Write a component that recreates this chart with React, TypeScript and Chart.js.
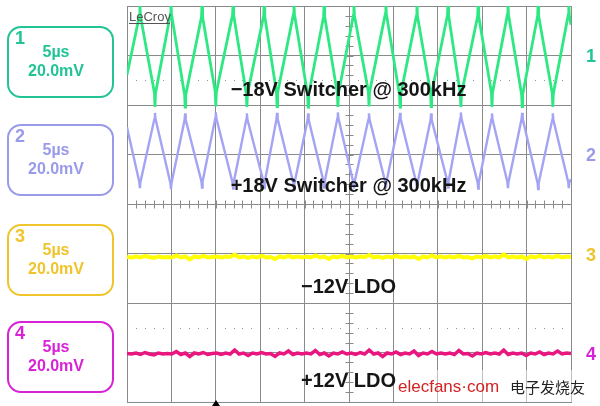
import React, { useEffect, useRef } from "react";
import { Chart, registerables } from "chart.js";

Chart.register(...registerables);

// ---- Channel 1 (−18V switcher): triangle vertices (x in divisions, y in divisions)
const ch1X = [0, 0.29, 0.63, 0.99, 1.31, 1.69, 2.0, 2.39, 2.7, 3.09, 3.38, 3.76, 4.08, 4.44, 4.75, 5.11, 5.45, 5.83, 6.15, 6.53, 6.85, 7.23, 7.52, 7.91, 8.22, 8.58, 8.9, 9.26, 9.59, 9.95, 10];
const ch1Y = [6.61, 7.8, 6.24, 7.84, 6.2, 7.78, 6.26, 7.82, 6.22, 7.8, 6.25, 7.83, 6.21, 7.79, 6.23, 7.81, 6.26, 7.84, 6.2, 7.8, 6.24, 7.82, 6.22, 7.79, 6.25, 7.83, 6.21, 7.8, 6.23, 7.82, 7.62];
const ch1Tip = [6.61, 8.05, 5.96, 8.05, 5.96, 8.05, 5.97, 8.05, 5.96, 8.05, 5.97, 8.05, 5.96, 8.05, 5.96, 8.05, 5.97, 8.05, 5.96, 8.05, 5.97, 8.05, 5.96, 8.05, 5.96, 8.05, 5.97, 8.05, 5.96, 8.05, 7.62];

// ---- Channel 2 (+18V switcher)
const ch2X = [0, 0.29, 0.63, 0.99, 1.31, 1.69, 2.0, 2.39, 2.7, 3.09, 3.38, 3.76, 4.08, 4.44, 4.75, 5.11, 5.45, 5.83, 6.15, 6.53, 6.85, 7.23, 7.52, 7.91, 8.22, 8.58, 8.9, 9.26, 9.59, 9.95, 10];
const ch2Y = [5.55, 4.44, 5.72, 4.42, 5.7, 4.45, 5.73, 4.43, 5.71, 4.44, 5.72, 4.42, 5.7, 4.45, 5.73, 4.43, 5.71, 4.44, 5.72, 4.42, 5.7, 4.45, 5.73, 4.43, 5.71, 4.44, 5.72, 4.42, 5.7, 4.44, 4.5];
const ch2Tip = [5.55, 4.32, 5.84, 4.3, 5.83, 4.33, 5.85, 4.31, 5.83, 4.32, 5.84, 4.3, 5.83, 4.33, 5.85, 4.31, 5.83, 4.32, 5.84, 4.3, 5.83, 4.33, 5.85, 4.31, 5.83, 4.32, 5.84, 4.3, 5.83, 4.32, 4.5];

// ---- Channel 3 (−12V LDO) noise samples
const ch3Y = [
  2.93, 2.92, 2.94, 2.92, 2.95, 2.93, 2.91, 2.94, 2.92, 2.93,
  2.92, 2.96, 2.92, 2.94, 2.88, 2.94, 2.92, 2.95, 2.92, 2.93,
  2.94, 2.92, 2.94, 2.93, 2.98, 2.92, 2.94, 2.91, 2.94, 2.92,
  2.95, 2.92, 2.93, 2.89, 2.94, 2.92, 2.95, 2.92, 2.94, 2.92,
  2.94, 2.92, 2.96, 2.92, 2.94, 2.89, 2.94, 2.92, 2.95, 2.92,
  2.94, 2.92, 2.94, 2.93, 2.97, 2.92, 2.94, 2.91, 2.94, 2.92,
  2.95, 2.92, 2.94, 2.92, 2.94, 2.89, 2.94, 2.92, 2.96, 2.92,
  2.94, 2.92, 2.94, 2.92, 2.95, 2.92, 2.93, 2.9, 2.94, 2.92,
  2.95, 2.92, 2.94, 2.92, 2.98, 2.92, 2.94, 2.92, 2.94, 2.89,
  2.94, 2.92, 2.95, 2.92, 2.94, 2.92, 2.95, 2.92, 2.94, 2.93,
];

// ---- Channel 4 (+12V LDO) noise samples
const ch4Y = [
  0.98, 0.97, 0.99, 0.96, 1.0, 0.97, 0.95, 0.99, 0.97, 0.98,
  0.97, 1.02, 0.96, 0.99, 0.92, 0.99, 0.97, 1.0, 0.96, 0.98,
  0.99, 0.96, 0.99, 0.97, 1.05, 0.97, 0.99, 0.94, 0.99, 0.97,
  1.0, 0.97, 0.98, 0.92, 0.99, 0.97, 1.03, 0.96, 0.99, 0.97,
  0.99, 0.97, 1.04, 0.96, 0.99, 0.93, 0.99, 0.97, 1.01, 0.97,
  0.99, 0.96, 1.0, 0.97, 1.05, 0.97, 0.99, 0.92, 0.99, 0.97,
  1.01, 0.96, 0.99, 0.97, 1.03, 0.94, 0.99, 0.97, 1.02, 0.97,
  0.99, 0.97, 0.99, 0.96, 1.04, 0.97, 0.98, 0.93, 0.99, 0.97,
  1.0, 0.97, 0.99, 0.97, 1.05, 0.96, 0.99, 0.97, 0.99, 0.94,
  0.99, 0.97, 1.01, 0.96, 0.99, 0.97, 1.03, 0.97, 0.99, 0.98,
];

const channelNames = ["1", "2", "3", "4"];
const timeBase = "5µs";
const voltScale = "20.0mV";
const traceTitles = ["−18V Switcher @ 300kHz", "+18V Switcher @ 300kHz", "−12V LDO", "+12V LDO"];
const boxColors = ["#22c496", "#9a9aea", "#f0c42c", "#d822d8"];
const traceColors = ["#2ee883", "#a4a4f4", "#ffff00", "#ea1680"];
const boxTops = [27, 125, 225, 322];
const labelYs = [57, 156, 256, 355];
const titleY = [6.3, 4.36, 2.32, 0.41];

const X_DIVS = 10;
const Y_DIVS = 8;

function triangleData(xs: number[], ys: number[], tips: number[]) {
  const pts: { x: number; y: number }[] = [];
  for (let i = 0; i < xs.length; i++) {
    if (i === 0 || i === xs.length - 1) {
      pts.push({ x: xs[i], y: ys[i] });
    } else {
      pts.push({ x: xs[i] - 0.012, y: ys[i] });
      pts.push({ x: xs[i], y: tips[i] });
      pts.push({ x: xs[i] + 0.012, y: ys[i] });
    }
  }
  return pts;
}

function noiseData(ys: number[]) {
  return ys.map((y, i) => ({ x: (i * X_DIVS) / (ys.length - 1), y }));
}

const overlay = {
  id: "scopeOverlay",
  beforeDatasetsDraw(chart: any) {
    const { ctx, scales } = chart;
    const xs = scales.x;
    const ys = scales.y;
    ctx.save();
    ctx.strokeStyle = "#8a8a8a";
    ctx.lineWidth = 1;
    const cx = Math.round(xs.getPixelForValue(X_DIVS / 2)) + 0.5;
    const cy = Math.round(ys.getPixelForValue(Y_DIVS / 2)) + 0.5;
    ctx.beginPath();
    for (let k = 0; k <= Y_DIVS * 5; k++) {
      const y = Math.round(ys.getPixelForValue(k / 5)) + 0.5;
      ctx.moveTo(cx - 4, y);
      ctx.lineTo(cx + 4, y);
    }
    for (let k = 0; k <= X_DIVS * 5; k++) {
      const x = Math.round(xs.getPixelForValue(k / 5)) + 0.5;
      ctx.moveTo(x, cy - 4);
      ctx.lineTo(x, cy + 4);
    }
    ctx.stroke();
    ctx.fillStyle = "#999";
    [6.5, 1.5].forEach((lv) => {
      const y = Math.round(ys.getPixelForValue(lv));
      for (let k = 0; k < X_DIVS * 5; k++) {
        if (k % 5 === 0) continue;
        const x = Math.round(xs.getPixelForValue(k / 5));
        ctx.fillRect(x, y, 1, 1);
      }
    });
    ctx.restore();
  },
  afterDraw(chart: any) {
    const { ctx, scales } = chart;
    const xs = scales.x;
    const ys = scales.y;
    ctx.save();
    ctx.fillStyle = "#151515";
    ctx.font = 'bold 20px "Liberation Sans", Arial, sans-serif';
    ctx.textAlign = "center";
    ctx.textBaseline = "middle";
    traceTitles.forEach((t, i) => {
      ctx.fillText(t, xs.getPixelForValue(4.99), ys.getPixelForValue(titleY[i]));
    });
    boxTops.forEach((top, i) => {
      ctx.strokeStyle = boxColors[i];
      ctx.lineWidth = 2;
      ctx.beginPath();
      (ctx as any).roundRect(8, top, 105, 70, 13);
      ctx.stroke();
      ctx.fillStyle = boxColors[i];
      ctx.font = 'bold 18px "Liberation Sans", Arial, sans-serif';
      ctx.textAlign = "center";
      ctx.fillText(channelNames[i], 20, top + 12);
      ctx.font = 'bold 16px "Liberation Sans", Arial, sans-serif';
      ctx.fillText(timeBase, 56, top + 26);
      ctx.fillText(voltScale, 56, top + 45);
      ctx.font = 'bold 18px "Liberation Sans", Arial, sans-serif';
      ctx.fillText(channelNames[i], 591, labelYs[i]);
    });
    ctx.fillStyle = "#555";
    ctx.font = '13px "Liberation Sans", Arial, sans-serif';
    ctx.textAlign = "left";
    ctx.textBaseline = "alphabetic";
    ctx.fillText("LeCroy", 129, 21);
    ctx.fillRect(129, 23, 41, 1);
    const tx = Math.round(xs.getPixelForValue(2));
    ctx.fillStyle = "#000";
    ctx.beginPath();
    ctx.moveTo(tx, 400);
    ctx.lineTo(tx - 4, 406);
    ctx.lineTo(tx + 4, 406);
    ctx.closePath();
    ctx.fill();
    ctx.fillStyle = "rgba(255,255,255,0.45)";
    ctx.fillRect(400, 370, 200, 32);
    ctx.fillStyle = "#d42222";
    ctx.font = '17px "Liberation Sans", Arial, sans-serif';
    ctx.fillText("elecfans·com", 398, 392);
    ctx.fillStyle = "#222";
    ctx.font = '15px "Noto Sans CJK SC", sans-serif';
    ctx.fillText("电子发烧友", 510, 393);
    ctx.restore();
  },
};

export default function App() {
  const ref = useRef<HTMLCanvasElement | null>(null);
  useEffect(() => {
    if (!ref.current) return;
    const chart = new Chart(ref.current, {
      type: "line",
      data: {
        datasets: [
          { data: triangleData(ch1X, ch1Y, ch1Tip), borderColor: traceColors[0], borderWidth: 2.8 },
          { data: triangleData(ch2X, ch2Y, ch2Tip), borderColor: traceColors[1], borderWidth: 2.4 },
          { data: noiseData(ch3Y), borderColor: traceColors[2], borderWidth: 4 },
          { data: noiseData(ch4Y), borderColor: traceColors[3], borderWidth: 3.5 },
        ],
      },
      options: {
        animation: false,
        responsive: false,
        devicePixelRatio: 1,
        layout: { padding: { left: 127, right: 29, top: 6, bottom: 4 } },
        plugins: { legend: { display: false }, tooltip: { enabled: false } },
        elements: { point: { radius: 0 }, line: { tension: 0 } },
        scales: {
          x: {
            type: "linear",
            min: 0,
            max: X_DIVS,
            ticks: { display: false, stepSize: 1 },
            grid: { color: "#8a8a8a", drawTicks: false, lineWidth: 1 },
            border: { color: "#8a8a8a" },
            afterFit: (s: any) => {
              s.height = 0;
            },
          },
          y: {
            type: "linear",
            min: 0,
            max: Y_DIVS,
            ticks: { display: false, stepSize: 1 },
            grid: { color: "#8a8a8a", drawTicks: false, lineWidth: 1 },
            border: { color: "#8a8a8a" },
            afterFit: (s: any) => {
              s.width = 0;
            },
          },
        },
      } as any,
      plugins: [overlay],
    });
    return () => chart.destroy();
  }, []);
  return (
    <div style={{ position: "fixed", left: 0, top: 0, width: 600, height: 406, background: "#fff" }}>
      <canvas ref={ref} width={600} height={406} style={{ display: "block" }} />
    </div>
  );
}
